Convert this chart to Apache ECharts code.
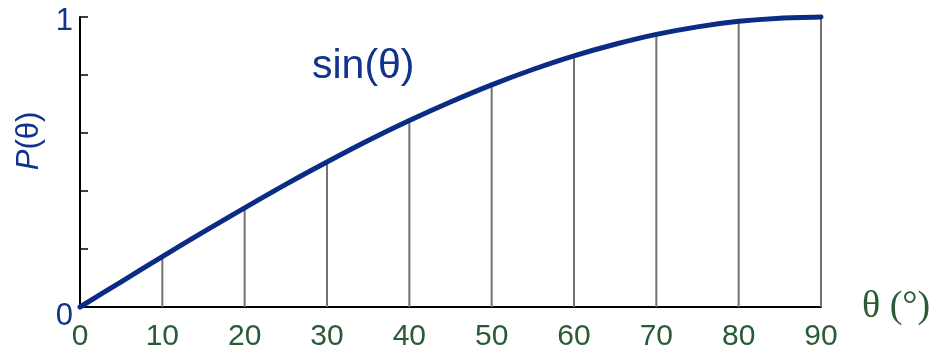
<!DOCTYPE html>
<html>
<head>
<meta charset="utf-8">
<script src="https://cdn.jsdelivr.net/npm/echarts@6/dist/echarts.min.js"></script>
<style>
  html, body { margin: 0; padding: 0; background: #fff; }
  #chart { width: 940px; height: 352px; }
</style>
</head>
<body>
<div id="chart"></div>
<script>
// Angle samples in degrees and the projection P(θ) along the curve
const angles = [0, 5, 10, 15, 20, 25, 30, 35, 40, 45, 50, 55, 60, 65, 70, 75, 80, 85, 90];
const pValues = [0, 0.087, 0.174, 0.259, 0.342, 0.423, 0.5, 0.574, 0.643, 0.707, 0.766, 0.819, 0.866, 0.906, 0.940, 0.966, 0.985, 0.996, 1];

// Angles that get a vertical drop line, with their heights on the curve
const dropAngles = [10, 20, 30, 40, 50, 60, 70, 80, 90];
const dropValues = [0.174, 0.342, 0.5, 0.643, 0.766, 0.866, 0.940, 0.985, 1];

const xTicks = [0, 10, 20, 30, 40, 50, 60, 70, 80, 90];

const BLUE = '#0b2c84';
const TEXT_BLUE = '#12338c';
const GREEN = '#2a5b36';
const GRAY = '#737373';

const chart = echarts.init(document.getElementById('chart'));

chart.setOption({
  animation: false,
  backgroundColor: '#ffffff',
  grid: { left: 80, right: 119, top: 17, bottom: 44, containLabel: false },
  xAxis: {
    type: 'value',
    min: xTicks[0],
    max: xTicks[xTicks.length - 1],
    interval: 10,
    name: 'θ (°)',
    nameLocation: 'end',
    nameGap: 41,
    nameTextStyle: {
      fontFamily: 'Liberation Serif',
      fontSize: 38,
      color: GREEN,
      verticalAlign: 'middle',
      padding: [16, 0, 0, 0]
    },
    axisLine: { lineStyle: { color: '#000', width: 2 } },
    axisTick: { show: false },
    splitLine: { show: false },
    axisLabel: {
      fontFamily: 'Liberation Sans',
      fontSize: 30,
      color: GREEN,
      margin: 15,
      formatter: v => String(v)
    }
  },
  yAxis: {
    type: 'value',
    min: 0,
    max: 1,
    interval: 0.2,
    name: '{p|P}(θ)',
    nameLocation: 'middle',
    nameRotate: 90,
    nameGap: 31,
    nameTextStyle: {
      fontFamily: 'Liberation Sans',
      fontSize: 31,
      color: TEXT_BLUE,
      padding: [0, 0, 0, 42],
      rich: {
        p: { fontFamily: 'Liberation Sans', fontSize: 31, fontStyle: 'italic', color: TEXT_BLUE }
      }
    },
    axisLine: { show: true, lineStyle: { color: '#000', width: 2 } },
    axisTick: { show: true, inside: true, length: 8, lineStyle: { color: '#000', width: 1.5 } },
    splitLine: { show: false },
    axisLabel: {
      margin: 7,
      formatter: v => (v === 0 ? '{z|0}' : (v === 1 ? '{o|1}' : '')),
      rich: {
        z: { fontFamily: 'Liberation Sans', fontSize: 31, color: TEXT_BLUE, padding: [18, 0, 0, 0] },
        o: { fontFamily: 'Liberation Sans', fontSize: 31, color: TEXT_BLUE, padding: [8, 0, 0, 0] }
      }
    }
  },
  series: [
    {
      type: 'bar',
      data: dropAngles.map((a, i) => [a, dropValues[i]]),
      barWidth: 2,
      clip: false,
      itemStyle: { color: GRAY },
      z: 1
    },
    {
      type: 'line',
      data: angles.map((a, i) => [a, pValues[i]]),
      smooth: 0.3,
      showSymbol: false,
      clip: false,
      lineStyle: { color: BLUE, width: 5, cap: 'round', join: 'round' },
      z: 3
    }
  ],
  graphic: [
    {
      type: 'text',
      left: 312,
      top: 46,
      style: {
        text: 'sin(θ)',
        fontFamily: 'Liberation Sans',
        fontSize: 41,
        fill: TEXT_BLUE
      }
    }
  ]
});
</script>
</body>
</html>
